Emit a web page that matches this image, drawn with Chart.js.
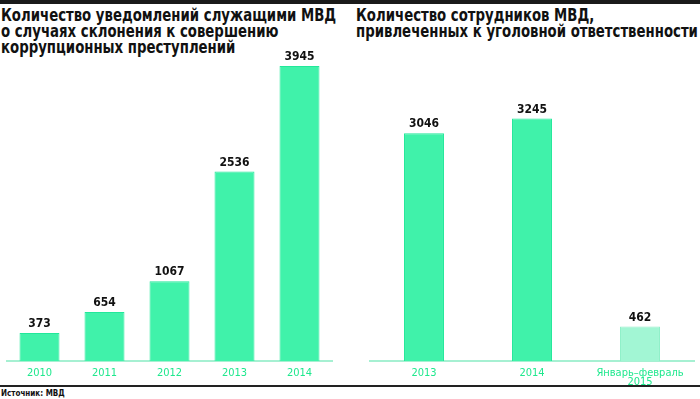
<!DOCTYPE html>
<html>
<head>
<meta charset="utf-8">
<script src="https://cdn.jsdelivr.net/npm/chart.js@4/dist/chart.umd.min.js"></script>
<style>
  html, body { margin: 0; padding: 0; background: #fff; }
  #page { position: relative; width: 700px; height: 399px; overflow: hidden; font-family: "DejaVu Sans Condensed", "DejaVu Sans", sans-serif; }
  .topbar { position: absolute; left: 0; top: 0; width: 700px; height: 4px; background: #1a1a1a; }
  .title { position: absolute; top: 7px; font-weight: bold; font-size: 18px; line-height: 16px; color: #111; white-space: nowrap; transform: scaleX(0.82); transform-origin: 0 0; }
  .bottomline { position: absolute; left: 0; top: 385px; width: 700px; height: 2px; background: #222; }
  .source { position: absolute; left: 1px; top: 389px; font-size: 8px; font-weight: bold; color: #111; }
  canvas { position: absolute; }
</style>
</head>
<body>
<div id="page">
  <div class="topbar"></div>
  <div class="title" style="left:1px">Количество уведомлений служащими МВД<br>о случаях склонения к совершению<br>коррупционных преступлений</div>
  <div class="title" style="left:356px">Количество сотрудников МВД,<br>привлеченных к уголовной ответственности</div>
  <canvas id="chartLeft" style="left:0;top:40px" width="340" height="345"></canvas>
  <canvas id="chartRight" style="left:360px;top:40px" width="340" height="345"></canvas>
  <div class="bottomline"></div>
  <div class="source">Источник: МВД</div>
</div>
<script>
  // данные
  var leftYears = ['2010', '2011', '2012', '2013', '2014'];
  var leftValues = [373, 654, 1067, 2536, 3945];

  var rightPeriods = ['2013', '2014', ['Январь–февраль', '2015']];
  var rightValues = [3046, 3245, 462];

  var barColor = '#40f2aa';
  var barBorder = '#22e89a';
  var lightColor = '#a2f6d4';
  var lightBorder = '#8ef0c8';
  var tickColor = '#1fe88e';
  var axisColor = '#a6f0d2';
  var fontFamily = '"DejaVu Sans Condensed", "DejaVu Sans", sans-serif';

  // подписи значений над столбиками
  var valueLabels = {
    id: 'valueLabels',
    afterDatasetsDraw: function (chart) {
      var ctx = chart.ctx;
      var meta = chart.getDatasetMeta(0);
      var data = chart.data.datasets[0].data;
      ctx.save();
      ctx.fillStyle = '#111';
      ctx.font = 'bold 12px ' + fontFamily;
      ctx.textAlign = 'center';
      ctx.textBaseline = 'bottom';
      meta.data.forEach(function (bar, i) {
        ctx.fillText(String(data[i]), bar.x, bar.y - 3);
      });
      ctx.restore();
    }
  };

  function makeChart(id, labels, values, colors, borders, barPct, padding) {
    return new Chart(document.getElementById(id).getContext('2d'), {
      type: 'bar',
      data: {
        labels: labels,
        datasets: [{
          data: values,
          backgroundColor: colors,
          borderColor: borders,
          borderWidth: 1,
          categoryPercentage: 1,
          barPercentage: barPct
        }]
      },
      options: {
        responsive: false,
        animation: false,
        layout: { padding: padding },
        plugins: { legend: { display: false }, tooltip: { enabled: false } },
        scales: {
          x: {
            grid: { display: false },
            border: { display: true, color: axisColor, width: 2 },
            afterFit: function (scale) { scale.height = 24; },
            ticks: {
              color: tickColor,
              padding: 0,
              maxRotation: 0,
              autoSkip: false,
              font: { family: fontFamily, size: 11, lineHeight: 0.8 }
            }
          },
          y: {
            display: false,
            min: 0,
            max: 4000
          }
        }
      },
      plugins: [valueLabels]
    });
  }

  makeChart('chartLeft', leftYears, leftValues,
    leftValues.map(function () { return barColor; }),
    leftValues.map(function () { return barBorder; }),
    0.615,
    { left: 7, right: 8, top: 22, bottom: 0 });

  makeChart('chartRight', rightPeriods, rightValues,
    [barColor, barColor, lightColor],
    [barBorder, barBorder, lightBorder],
    0.37,
    { left: 10, right: 6, top: 22, bottom: 0 });
</script>
</body>
</html>
